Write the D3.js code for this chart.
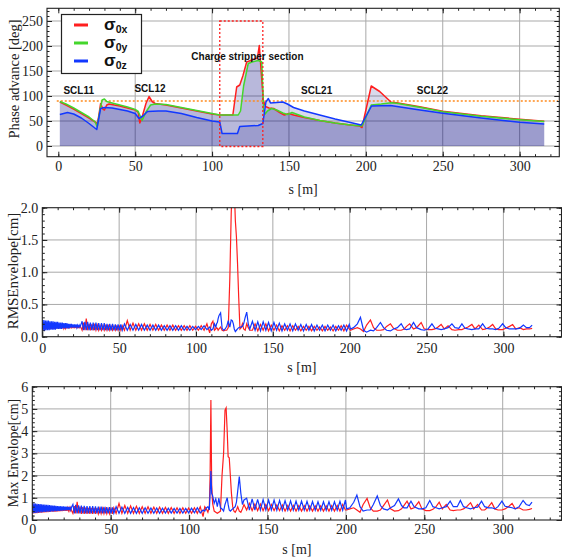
<!DOCTYPE html>
<html>
<head>
<meta charset="utf-8">
<script src="https://cdn.jsdelivr.net/npm/d3@7"></script>
<style>
  body { margin: 0; background: #fff; }
  svg { display: block; }
  .axis-title { font-family: "Liberation Serif", "Times New Roman", serif; fill: #222; }
  .section-label { font-family: "Liberation Sans", Arial, sans-serif; font-weight: bold; font-size: 10px; fill: #111; }
  .legend-label { font-family: "Liberation Sans", Arial, sans-serif; font-weight: bold; fill: #111; }
</style>
</head>
<body>
<svg id="chart" width="562" height="558"></svg>
<script>
// ---- phase advance per period [deg] vs s [m] ----
var sigmaX = [[1,88],[5,82],[10,74],[15,65],[20,56],[24.5,47],[25.2,42],[26.2,58],[27.5,85],[29,74],[30,72],[31.5,82],[33,84],
  [40,80],[45,76],[50,72],[52,67],[53,46],[54.5,58],[57,85],[59,99],[61,89],[63,85],[70,82],[80,76],[90,70],[100,64],[105,62],
  [113.5,62],[116,118],[118,122],[120,140],[122.5,168],[126,172],[129.5,176],[130.7,201],[131.8,155],[133.3,92],[134.7,79],
  [137,76],[140,75],[144,67],[147,62],[150,65],[153,62],[160,57],[170,51],[180,46],[190,42],[196,40],[197.5,37],
  [203.5,120],[209,109],[216.5,87.5],[220,86.5],[235,78.5],[250,69.5],[275,60.5],[300,53.5],[316,49.5]];
var sigmaY = [[1,89],[5,84],[10,76],[15,67],[20,58],[24,48],[25.3,38],[27,70],[28.5,92],[30,94],[31.5,89],[35,86],[40,82],
  [45,78],[50,73],[52,69],[54.5,51],[57,68],[60,82],[63,84],[70,83],[80,77],[90,71],[100,65],[105,62],[117,62],[118.5,70],
  [120.5,120],[123.5,165],[126,168],[130,171],[132.3,168],[133.5,72],[134.5,64],[136,70],[138.7,75],[142,72],[146,66],
  [149,63],[152,67],[160,58],[170,51],[180,46],[190,42],[197.5,40],[203.5,82],[210,84],[216.5,86.5],[220,85.5],
  [235,77.5],[250,68.5],[275,59.5],[300,52.5],[316,49]];
var sigmaZ = [[1,63],[6,67],[10,64],[15,56],[20,45],[25,33],[27.5,75],[30,77],[35,76],[40,73],[45,70],[50,65],[52.5,55],
  [55,60],[58,69],[65,70],[70,70],[80,65],[90,57],[100,50],[105,48],[106.5,25],[116.5,25],[118,39],[130,41],[133,45],
  [135,88],[136.6,95],[138,86],[142,87],[146,88],[149,84],[153,77],[160,70],[170,62],[180,54],[190,47],[197,42],
  [203.7,80],[216,81],[233,73],[250,65.5],[275,56],[300,47.5],[316,44]];
var phaseLimit = 90;              // dashed orange line
var stripperRange = [105, 133];   // red dotted box, s [m]
var stripperTop = 250;
var sections = [
  { name: "SCL11", s: 13.3, v: 105 },
  { name: "SCL12", s: 59.6, v: 108 },
  { name: "Charge stripper section", s: 123, v: 172 },
  { name: "SCL21", s: 168, v: 105 },
  { name: "SCL22", s: 243.3, v: 105 }
];

// ---- envelopes, shared s grid [m] ----
var envS = [
  0,0.5,1,1.5,2,2.5,3,3.5,4,4.5,5,5.5,6,6.5,7,7.5,8,8.5,9,9.5,10,10.5,11,11.5,12,12.5,13,13.5,14,14.5,15,15.5,16,16.5,17,17.5,18,18.5,19,19.5,20,20.5,21,21.5,22,22.5,23,23.5,24,24.5,25,
  25.9,26.8,27.7,28.6,29.5,30.4,31.3,32.2,33.1,34.0,34.9,35.8,36.7,37.6,38.5,39.4,40.3,41.2,42.1,43.0,43.9,44.8,45.7,46.6,47.5,48.4,49.3,50.2,51.1,52.0,
  53.45,55.3,57.15,59.0,60.85,62.7,64.55,66.4,68.25,70.1,71.95,73.8,75.65,77.5,79.35,81.2,83.05,84.9,86.75,88.6,90.45,92.3,94.15,96.0,97.85,99.7,101.55,103.4,105.25,107.1,
  108.9,110,111,112,112.9,113.4,113.9,114.4,115,116,117,118,119,120,121,122,122.9,123.6,124.3,124.9,125.6,126.3,127,127.8,128.6,129.4,130.2,131,132,133,134,135,
  136.7,138.45,140.2,141.95,143.7,145.45,147.2,148.95,150.7,152.45,154.2,155.95,157.7,159.45,161.2,162.95,164.7,166.45,168.2,169.95,171.7,173.45,175.2,176.95,178.7,180.45,182.2,183.95,185.7,187.45,189.2,190.95,192.7,194.45,196.2,197.95,199.7,
  200.5,202.5,205,207,209,211,213.5,215.5,217.5,220,222,224,226.5,228.5,231,233.5,235.5,237,239,241.5,243.5,246.5,248.5,251,253.5,255.5,257.5,259.5,261.5,264,266.5,268.5,271,273,275,277,279.5,281.5,284,286.5,288.5,291,293,295,297,299.5,301.5,304,306,308,310.5,313,315,317,318.7
];
var rmsX = [
  .11,.21,.11,.21,.11,.21,.12,.20,.12,.20,.12,.20,.12,.19,.12,.19,.12,.19,.13,.19,.13,.18,.13,.18,.13,.18,.13,.18,.13,.17,.13,.17,.14,.17,.14,.17,.14,.17,.14,.16,.14,.16,.14,.16,.14,.16,.14,.16,.14,.16,.15,
  .10,.22,.10,.28,.10,.20,.10,.19,.10,.18,.10,.18,.10,.17,.10,.17,.10,.17,.10,.17,.10,.16,.10,.16,.10,.16,.10,.16,.10,.17,
  .10,.25,.10,.21,.10,.20,.10,.20,.10,.19,.10,.19,.10,.18,.10,.18,.10,.18,.10,.17,.10,.17,.10,.17,.10,.16,.10,.17,.10,.20,
  .06,.20,.24,.10,.12,.14,.13,.10,.12,.15,.10,.09,.10,.10,.14,.90,1.9,2.4,2.5,2.3,1.8,1.55,1.15,.60,.12,.14,.20,.12,.10,.20,.14,.10,
  .10,.20,.09,.19,.10,.20,.09,.18,.10,.18,.09,.17,.10,.17,.09,.17,.10,.16,.09,.16,.10,.16,.09,.16,.10,.15,.09,.16,.10,.15,.09,.16,.10,.17,.09,.18,.12,
  .10,.12,.14,.12,.08,.18,.26,.14,.10,.10,.11,.16,.20,.13,.10,.10,.12,.16,.20,.12,.14,.22,.12,.11,.11,.12,.15,.19,.12,.17,.11,.10,.11,.11,.13,.15,.19,.12,.18,.11,.12,.15,.19,.12,.11,.11,.13,.16,.19,.12,.14,.11,.12,.12,.13
];
var rmsY = [
  .26,.09,.26,.09,.25,.10,.25,.10,.25,.10,.24,.11,.24,.11,.24,.11,.23,.11,.23,.12,.23,.12,.22,.12,.22,.12,.22,.13,.21,.13,.21,.13,.21,.13,.20,.13,.20,.14,.20,.14,.19,.14,.19,.14,.19,.14,.18,.15,.18,.15,.18,
  .24,.10,.23,.10,.23,.10,.22,.10,.22,.10,.22,.10,.21,.10,.21,.10,.21,.10,.20,.10,.20,.10,.20,.10,.19,.10,.19,.10,.19,.10,
  .20,.10,.19,.10,.19,.10,.19,.10,.18,.10,.18,.10,.18,.10,.17,.10,.17,.10,.17,.10,.17,.10,.16,.10,.16,.11,.16,.11,.17,.11,
  .15,.10,.12,.20,.15,.20,.22,.28,.33,.37,.13,.10,.12,.16,.25,.15,.26,.25,.20,.12,.08,.10,.12,.14,.15,.15,.16,.20,.30,.38,.20,.12,
  .24,.10,.23,.09,.23,.10,.22,.09,.22,.10,.21,.09,.20,.10,.20,.09,.20,.10,.19,.09,.19,.10,.19,.09,.18,.10,.18,.09,.18,.10,.18,.09,.17,.10,.18,.09,.19,
  .12,.14,.20,.30,.10,.07,.10,.09,.14,.22,.14,.10,.09,.12,.14,.20,.12,.11,.12,.22,.14,.11,.10,.12,.20,.13,.12,.11,.12,.14,.20,.14,.13,.20,.13,.12,.11,.12,.12,.20,.13,.12,.12,.11,.13,.20,.14,.12,.12,.12,.13,.18,.14,.14,.18
];
var maxX = [
  .30,.70,.30,.69,.31,.68,.31,.68,.32,.67,.33,.66,.33,.65,.34,.64,.34,.64,.35,.63,.35,.62,.36,.62,.37,.61,.37,.60,.38,.60,.38,.59,.39,.58,.39,.58,.40,.57,.40,.57,.41,.56,.41,.56,.41,.55,.42,.55,.42,.55,.43,
  .30,.62,.30,.82,.30,.60,.28,.58,.28,.56,.28,.55,.28,.54,.28,.54,.28,.53,.28,.52,.28,.52,.28,.52,.28,.51,.28,.51,.28,.55,
  .30,.75,.30,.65,.30,.63,.30,.62,.30,.60,.30,.60,.30,.58,.30,.58,.30,.57,.30,.56,.30,.55,.30,.55,.30,.54,.30,.55,.30,.60,
  .15,.60,.50,.35,.60,2.0,5.4,1.6,.75,.40,.35,.30,.35,.40,2.0,3.0,4.95,5.05,4.0,2.85,2.8,2.0,1.2,.60,.40,.35,.45,.60,.40,.35,.50,.70,
  .45,.75,.42,.72,.42,.72,.42,.70,.42,.70,.42,.68,.42,.68,.40,.66,.40,.66,.40,.65,.40,.65,.40,.64,.40,.64,.40,.64,.40,.64,.40,.65,.40,.66,.40,.70,.45,
  .45,.50,.55,.45,.35,.70,.97,.55,.40,.40,.45,.65,.90,.50,.40,.42,.50,.65,.85,.50,.55,.82,.50,.42,.42,.48,.60,.80,.50,.70,.45,.42,.45,.45,.50,.60,.78,.50,.70,.45,.45,.60,.78,.50,.45,.45,.50,.62,.75,.50,.55,.45,.45,.48,.52
];
var maxY = [
  .76,.31,.75,.32,.74,.32,.73,.33,.72,.34,.72,.34,.71,.35,.70,.36,.69,.36,.68,.37,.68,.37,.67,.38,.66,.39,.65,.39,.65,.40,.64,.40,.63,.41,.63,.41,.62,.42,.61,.42,.61,.43,.60,.43,.60,.44,.59,.44,.59,.45,.58,
  .70,.30,.68,.30,.66,.30,.65,.30,.64,.30,.63,.30,.62,.30,.62,.30,.61,.30,.60,.30,.60,.30,.59,.30,.58,.30,.58,.30,.57,.30,
  .60,.30,.58,.30,.57,.30,.56,.30,.55,.30,.55,.30,.54,.30,.54,.30,.53,.31,.53,.31,.52,.31,.52,.31,.52,.32,.53,.32,.55,.32,
  .45,.40,.55,.60,.45,1.2,2.2,1.2,1.1,.75,.95,.60,.98,.55,.50,.40,.70,.85,1.0,.70,.45,.40,.45,.50,.55,.60,.80,1.3,1.95,1.2,.70,.90,
  .98,.45,.95,.45,.93,.45,.92,.45,.90,.45,.90,.44,.88,.44,.87,.44,.86,.44,.85,.44,.85,.44,.84,.44,.83,.44,.82,.44,.82,.44,.82,.44,.82,.44,.84,.44,.90,
  .50,.55,.80,1.12,.60,.40,.45,.45,.70,1.08,.65,.50,.45,.55,.65,.95,.65,.55,.55,.85,.60,.50,.50,.55,.88,.60,.55,.50,.55,.60,.85,.60,.60,.88,.60,.55,.50,.55,.58,.85,.60,.55,.55,.50,.60,.85,.62,.58,.55,.50,.60,.88,.70,.65,.80
];

// ---- tick labels ----
var sTicks = [0, 50, 100, 150, 200, 250, 300];
var phaseTicks = [0, 50, 100, 150, 200, 250];
var rmsTicks = [0, 0.5, 1.0, 1.5, 2.0];
var maxTicks = [0, 1, 2, 3, 4, 5, 6];

var RED = "#ff1f1f", GREEN = "#44d62c", BLUE = "#1238ff";
var SERIF = '"Liberation Serif", "Times New Roman", serif';
var svg = d3.select("#chart");

function makePanel(cfg) {
  var b = cfg.box;
  var x = d3.scaleLinear().domain(cfg.xDomain).range([b.l, b.r]);
  var y = d3.scaleLinear().domain(cfg.yDomain).range([b.b, b.t]);
  var g = svg.append("g");
  // grid lines
  g.append("g").selectAll("line").data(cfg.gridX).join("line")
    .attr("x1", function(d) { return x(d); }).attr("x2", function(d) { return x(d); })
    .attr("y1", b.t).attr("y2", b.b)
    .attr("stroke", "#a9a9a9").attr("stroke-width", 1);
  g.append("g").selectAll("line").data(cfg.gridY).join("line")
    .attr("y1", function(d) { return y(d); }).attr("y2", function(d) { return y(d); })
    .attr("x1", b.l).attr("x2", b.r)
    .attr("stroke", "#a9a9a9").attr("stroke-width", 1);
  svg.append("clipPath").attr("id", "clip-" + cfg.name)
    .append("rect").attr("x", b.l).attr("y", b.t).attr("width", b.r - b.l).attr("height", b.b - b.t);
  var plot = g.append("g").attr("clip-path", "url(#clip-" + cfg.name + ")");
  return { x: x, y: y, g: g, plot: plot, cfg: cfg };
}

function finishPanel(p) {
  var cfg = p.cfg, b = cfg.box, x = p.x, y = p.y, g = p.g;
  var xd = x.domain(), yd = y.domain();
  var minorX = d3.range(-10, 340, 10).filter(function(v) { return v > xd[0] && v < xd[1]; });
  var minorY = d3.range(0, yd[1] + 1e-9, cfg.yMinor).filter(function(v) { return v >= yd[0] && v <= yd[1]; });
  var axes = [
    [d3.axisBottom, x, minorX, cfg.xTicks, "translate(0," + b.b + ")", true],
    [d3.axisTop, x, minorX, cfg.xTicks, "translate(0," + b.t + ")", false],
    [d3.axisLeft, y, minorY, cfg.yTicks, "translate(" + b.l + ",0)", true],
    [d3.axisRight, y, minorY, cfg.yTicks, "translate(" + b.r + ",0)", false]
  ];
  axes.forEach(function(a, i) {
    var ax = g.append("g").attr("transform", a[4]);
    ax.append("g").call(a[0](a[1]).tickValues(a[2]).tickSize(-2.5).tickFormat(""));
    var major = a[0](a[1]).tickValues(a[3]).tickSize(-5);
    if (a[5]) {
      major.tickPadding(i === 0 ? cfg.xPad : 4).tickFormat(i === 0 ? d3.format("d") : cfg.yFormat);
    } else {
      major.tickFormat("");
    }
    ax.append("g").call(major);
    ax.selectAll(".domain").remove();
    ax.selectAll(".tick line").attr("stroke", "#222").attr("stroke-width", 1);
    ax.selectAll("g").attr("font-family", SERIF).attr("font-size", 14);
    ax.selectAll(".tick text").attr("font-family", SERIF).attr("font-size", 14).attr("fill", "#222");
  });
  g.append("rect").attr("x", b.l).attr("y", b.t).attr("width", b.r - b.l).attr("height", b.b - b.t)
    .attr("fill", "none").attr("stroke", "#222").attr("stroke-width", 1.1);
  // axis titles
  g.append("text").attr("class", "axis-title")
    .attr("x", (b.l + b.r) / 2).attr("y", cfg.sTitleY)
    .attr("text-anchor", "middle").attr("font-size", 14).text("s [m]");
  g.append("text").attr("class", "axis-title")
    .attr("transform", "translate(" + cfg.yTitle[0] + "," + cfg.yTitle[1] + ") rotate(-90)")
    .attr("text-anchor", "middle").attr("font-size", cfg.yTitleSize).text(cfg.yLabel);
}

// ---------------- panel 1: phase advance ----------------
var p1 = makePanel({
  name: "phase", box: { l: 47, r: 559.3, t: 8.3, b: 156.7 },
  xDomain: [-7.35, 325.8], yDomain: [-21.4, 275.4],
  gridX: [50, 100, 150, 200, 250, 300], gridY: [0, 50, 100, 150, 200, 250],
  xTicks: sTicks, yTicks: phaseTicks, yMinor: 10, xPad: 4, yFormat: d3.format("d"),
  sTitleY: 194, yTitle: [18.5, 79], yTitleSize: 14.5, yLabel: "Phase advance [deg]"
});
var area1 = d3.area().x(function(d) { return p1.x(d[0]); }).y0(p1.y(0)).y1(function(d) { return p1.y(d[1]); });
var line1 = d3.line().x(function(d) { return p1.x(d[0]); }).y(function(d) { return p1.y(d[1]); });
[sigmaX, sigmaY, sigmaZ].forEach(function(series) {
  p1.plot.append("path").datum(series).attr("d", area1)
    .attr("fill", "rgb(0,0,128)").attr("fill-opacity", 0.15);
});
p1.plot.append("line")
  .attr("x1", p1.x(-1)).attr("x2", p1.x(325)).attr("y1", p1.y(phaseLimit)).attr("y2", p1.y(phaseLimit))
  .attr("stroke", "#ff8a1c").attr("stroke-width", 1.3).attr("stroke-dasharray", "2,2");
[[sigmaX, RED], [sigmaY, GREEN], [sigmaZ, BLUE]].forEach(function(s) {
  p1.plot.append("path").datum(s[0]).attr("d", line1)
    .attr("fill", "none").attr("stroke", s[1]).attr("stroke-width", 1.5).attr("stroke-linejoin", "round");
});
p1.plot.append("rect")
  .attr("x", p1.x(stripperRange[0])).attr("width", p1.x(stripperRange[1]) - p1.x(stripperRange[0]))
  .attr("y", p1.y(stripperTop)).attr("height", p1.y(-1) - p1.y(stripperTop))
  .attr("fill", "none").attr("stroke", "#ff2020").attr("stroke-width", 1.3).attr("stroke-dasharray", "2,2");
p1.g.selectAll(".section-label").data(sections).join("text")
  .attr("class", "section-label")
  .attr("x", function(d) { return p1.x(d.s); }).attr("y", function(d) { return p1.y(d.v); })
  .attr("text-anchor", "middle").text(function(d) { return d.name; });
finishPanel(p1);

// legend
var legendItems = [{ c: RED, sub: "0x" }, { c: GREEN, sub: "0y" }, { c: BLUE, sub: "0z" }];
var leg = svg.append("g");
leg.append("rect").attr("x", 61.5).attr("y", 14.5).attr("width", 80).attr("height", 59)
  .attr("fill", "#fff").attr("stroke", "#222").attr("stroke-width", 1.2);
legendItems.forEach(function(d, i) {
  var cy = 25 + i * 18;
  leg.append("line").attr("x1", 74).attr("x2", 88).attr("y1", cy).attr("y2", cy)
    .attr("stroke", d.c).attr("stroke-width", 3);
  var t = leg.append("text").attr("class", "legend-label").attr("x", 104).attr("y", cy + 4.5);
  t.append("tspan").attr("font-size", 17).text("σ");
  t.append("tspan").attr("font-size", 10.5).attr("dy", 3.5).text(d.sub);
});

// ---------------- panel 2: RMS envelope ----------------
var p2 = makePanel({
  name: "rms", box: { l: 42.3, r: 561.5, t: 207.7, b: 336.7 },
  xDomain: [0, 337.8], yDomain: [0, 2],
  gridX: [50, 100, 150, 200, 250, 300], gridY: [0.5, 1.0, 1.5],
  xTicks: sTicks, yTicks: rmsTicks, yMinor: 0.1, xPad: 6, yFormat: d3.format(".1f"),
  sTitleY: 372, yTitle: [17.5, 271], yTitleSize: 15, yLabel: "RMSEnvelope[cm]"
});
function envLine(p, vals) {
  return d3.line().x(function(d, i) { return p.x(envS[i]); }).y(function(d) { return p.y(d); })(vals);
}
p2.plot.append("path").attr("d", envLine(p2, rmsX)).attr("fill", "none").attr("stroke", RED).attr("stroke-width", 1.2);
p2.plot.append("path").attr("d", envLine(p2, rmsY)).attr("fill", "none").attr("stroke", BLUE).attr("stroke-width", 1.2);
finishPanel(p2);

// ---------------- panel 3: max envelope ----------------
var p3 = makePanel({
  name: "max", box: { l: 32.3, r: 561.5, t: 386.7, b: 520 },
  xDomain: [0, 337.5], yDomain: [0, 6],
  gridX: [50, 100, 150, 200, 250, 300], gridY: [1, 2, 3, 4, 5],
  xTicks: sTicks, yTicks: maxTicks, yMinor: 0.2, xPad: 4, yFormat: d3.format("d"),
  sTitleY: 554, yTitle: [17.5, 453], yTitleSize: 14, yLabel: "Max Envelope[cm]"
});
p3.plot.append("path").attr("d", envLine(p3, maxX)).attr("fill", "none").attr("stroke", RED).attr("stroke-width", 1.2);
p3.plot.append("path").attr("d", envLine(p3, maxY)).attr("fill", "none").attr("stroke", BLUE).attr("stroke-width", 1.2);
finishPanel(p3);
</script>
</body>
</html>
